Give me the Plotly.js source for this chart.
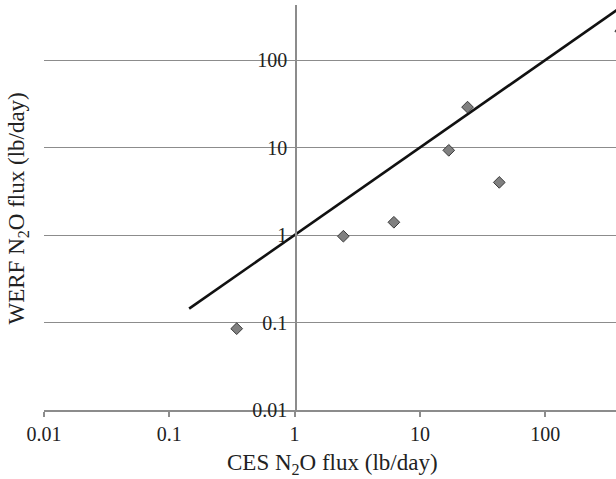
<!DOCTYPE html>
<html>
<head>
<meta charset="utf-8">
<script src="https://cdn.plot.ly/plotly-3.0.1.min.js"></script>
<style>html,body{margin:0;padding:0;background:#fff;}#chart{width:616px;height:479px;}</style>
</head>
<body>
<div id="chart"></div>
<script>
// Data
const cesFlux = [0.345, 2.45, 6.2, 17, 24, 43, 400];
const werfFlux = [0.085, 0.97, 1.4, 9.3, 29, 4.0, 215];
const lineX = [0.144, 400];
const lineY = [0.144, 400];
const tickVals = [0.01, 0.1, 1, 10, 100];
const tickText = ['0.01', '0.1', '1', '10', '100'];

const SERIF = 'Liberation Serif';
const GRAY = '#8c8c8c';
const INK = '#222222';

const traces = [
  {
    x: lineX, y: lineY, mode: 'lines', type: 'scatter',
    line: {color: '#111111', width: 2.6}, hoverinfo: 'skip'
  },
  {
    x: cesFlux, y: werfFlux, mode: 'markers', type: 'scatter',
    marker: {symbol: 'diamond', size: 9, color: '#808080', line: {color: '#3a3a3a', width: 1}}
  }
];

const layout = {
  width: 616, height: 479,
  margin: {l: 44, r: 0, t: 5, b: 69, pad: 0},
  paper_bgcolor: '#ffffff', plot_bgcolor: '#ffffff',
  showlegend: false,
  font: {family: SERIF, size: 20, color: INK},
  xaxis: {
    type: 'log', range: [-2, 2.565],
    tickvals: tickVals, ticktext: tickText,
    showgrid: false, zeroline: false,
    showline: true, linecolor: GRAY, linewidth: 1.5,
    ticks: 'outside', ticklen: 5, tickcolor: GRAY, tickwidth: 1.5,
    tickfont: {family: SERIF, size: 20, color: INK}
  },
  yaxis: {
    type: 'log', range: [-2, 2.63],
    anchor: 'free', position: 0.4406,
    tickvals: tickVals, ticktext: tickText,
    showgrid: true, gridcolor: GRAY, gridwidth: 1.4,
    zeroline: false,
    showline: true, linecolor: GRAY, linewidth: 1.5,
    ticks: '', ticklabelstandoff: 4,
    tickfont: {family: SERIF, size: 20, color: INK}
  },
  annotations: [
    {
      text: 'CES N<sub>2</sub>O flux (lb/day)', xref: 'paper', yref: 'paper',
      x: 0.5035, y: -0.133, xanchor: 'center', yanchor: 'middle', showarrow: false,
      font: {family: SERIF, size: 23, color: INK}
    },
    {
      text: 'WERF N<sub>2</sub>O flux (lb/day)', xref: 'paper', yref: 'paper',
      x: -0.0455, y: 0.4975, xanchor: 'center', yanchor: 'middle', showarrow: false,
      textangle: -90,
      font: {family: SERIF, size: 23, color: INK}
    }
  ]
};

Plotly.newPlot('chart', traces, layout, {displayModeBar: false});
</script>
</body>
</html>
